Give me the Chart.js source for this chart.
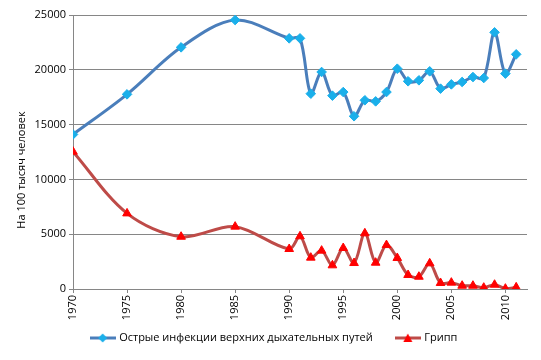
<!DOCTYPE html>
<html>
<head>
<meta charset="utf-8">
<script src="https://cdn.jsdelivr.net/npm/chart.js@4/dist/chart.umd.min.js"></script>
<style>
html,body{margin:0;padding:0;background:#fff;}
#wrap{width:541px;height:360px;position:relative;}
</style>
</head>
<body>
<div id="wrap"><canvas id="c" width="541" height="360"></canvas></div>
<script>
const years = [1970,1975,1980,1985,1990,1991,1992,1993,1994,1995,1996,1997,1998,1999,2000,2001,2002,2003,2004,2005,2006,2007,2008,2009,2010,2011];
const ariValues = [14100,17760,22050,24540,22870,22870,17820,19800,17640,17970,15760,17220,17120,17970,20100,18950,19040,19860,18280,18670,18890,19340,19250,23420,19650,21410];
const fluValues = [12530,6900,4770,5690,3650,4810,2860,3500,2160,3740,2370,5080,2400,4010,2830,1280,1120,2340,550,580,300,300,120,390,30,150];
const seriesNames = ['Острые инфекции верхних дыхательных путей','Грипп'];
const yAxisTitle = 'На 100 тысяч человек';
const xTickYears = [1970,1975,1980,1985,1990,1995,2000,2005,2010];

const FONT = "'Open Sans', 'Liberation Sans', sans-serif";
const blueLine = '#4A7EBB', blueMark = '#1AAFEA';
const redLine = '#BE4B48', redMark = '#FF0000';

function legendIcon(lineColor, markColor, shape){
  const c = document.createElement('canvas');
  c.width = 26; c.height = 12;
  const g = c.getContext('2d');
  g.strokeStyle = lineColor; g.lineWidth = 3;
  g.beginPath(); g.moveTo(0,6); g.lineTo(26,6); g.stroke();
  g.fillStyle = markColor;
  g.beginPath();
  if (shape === 'diamond'){
    g.moveTo(13,1.5); g.lineTo(17.5,6); g.lineTo(13,10.5); g.lineTo(8.5,6);
  } else {
    g.moveTo(13,1.5); g.lineTo(17.5,10); g.lineTo(8.5,10);
  }
  g.closePath(); g.fill();
  return c;
}
const icons = [legendIcon(blueLine, blueMark, 'diamond'), legendIcon(redLine, redMark, 'triangle')];

const toXY = (vals) => years.map((y,i)=>({x:y, y:vals[i]}));

const yTitlePlugin = {
  id:'yTitle',
  afterDraw(chart){
    const ctx = chart.ctx;
    ctx.save();
    ctx.translate(22, 170);
    ctx.rotate(-Math.PI/2);
    ctx.font = '11px ' + FONT;
    ctx.fillStyle = '#000';
    ctx.textAlign = 'center';
    ctx.textBaseline = 'middle';
    ctx.fillText(yAxisTitle, 0, 0);
    ctx.restore();
  }
};
const LEG_PAD = 24;
const legendFix = {
  id:'legendFix',
  beforeLayout(chart){
    const l = chart.legend;
    if (l && !l._patched){
      const orig = l.fit.bind(l);
      l.fit = function(){ orig(); this.height = 35; };
      l._patched = true;
    }
  },
  afterLayout(chart){
    const l = chart.legend;
    if (l){
      const desiredCenter = 338;
      const top = desiredCenter - LEG_PAD - 5.5;
      const dy = top - l.top;
      l.top += dy; l.bottom += dy;
      l.left += 11; l.right += 11;
    }
  }
};

new Chart(document.getElementById('c'), {
  type:'line',
  data:{
    datasets:[
      {label:seriesNames[0], data:toXY(ariValues), borderColor:blueLine, backgroundColor:blueMark,
       borderWidth:3, tension:0.33, pointStyle:'rectRot', pointRadius:4.8, pointBackgroundColor:blueMark,
       pointBorderColor:blueMark, pointBorderWidth:1, fill:false},
      {label:seriesNames[1], data:toXY(fluValues), borderColor:redLine, backgroundColor:redMark,
       borderWidth:3, tension:0.33, pointStyle:'triangle', pointRadius:5, pointBackgroundColor:redMark,
       pointBorderColor:redMark, pointBorderWidth:1, fill:false}
    ]
  },
  options:{
    responsive:false,
    animation:false,
    layout:{padding:{left:0,right:14,top:15,bottom:0}},
    plugins:{
      legend:{
        position:'bottom',
        labels:{
          font:{family:FONT,size:11},
          color:'#000',
          usePointStyle:true,
          pointStyleWidth:22,
          boxHeight:11,
          padding:LEG_PAD,
          generateLabels(chart){
            return chart.data.datasets.map((d,i)=>({
              text:d.label, pointStyle:icons[i], fillStyle:d.backgroundColor,
              strokeStyle:d.borderColor, lineWidth:0, hidden:false, datasetIndex:i, fontColor:'#000'
            }));
          }
        }
      },
      tooltip:{enabled:false}
    },
    scales:{
      x:{
        type:'linear', min:1970, max:2012,
        afterBuildTicks(scale){ scale.ticks = xTickYears.map(v=>({value:v})); },
        afterFit(scale){ scale.height = 36; },
        ticks:{font:{family:FONT,size:11}, color:'#000', minRotation:90, maxRotation:90, padding:2,
               callback:(v)=>String(v)},
        grid:{drawOnChartArea:false, drawTicks:true, tickLength:4, color:'#868686'},
        border:{color:'#868686', width:1}
      },
      y:{
        min:0, max:25000,
        afterFit(scale){ scale.width = 73; },
        ticks:{stepSize:5000, font:{family:FONT,size:11}, color:'#000', padding:3,
               callback:(v)=>String(v)},
        grid:{color:'#868686', tickLength:4, lineWidth:1},
        border:{color:'#868686', width:1}
      }
    }
  },
  plugins:[yTitlePlugin, legendFix]
});
</script>
</body>
</html>
